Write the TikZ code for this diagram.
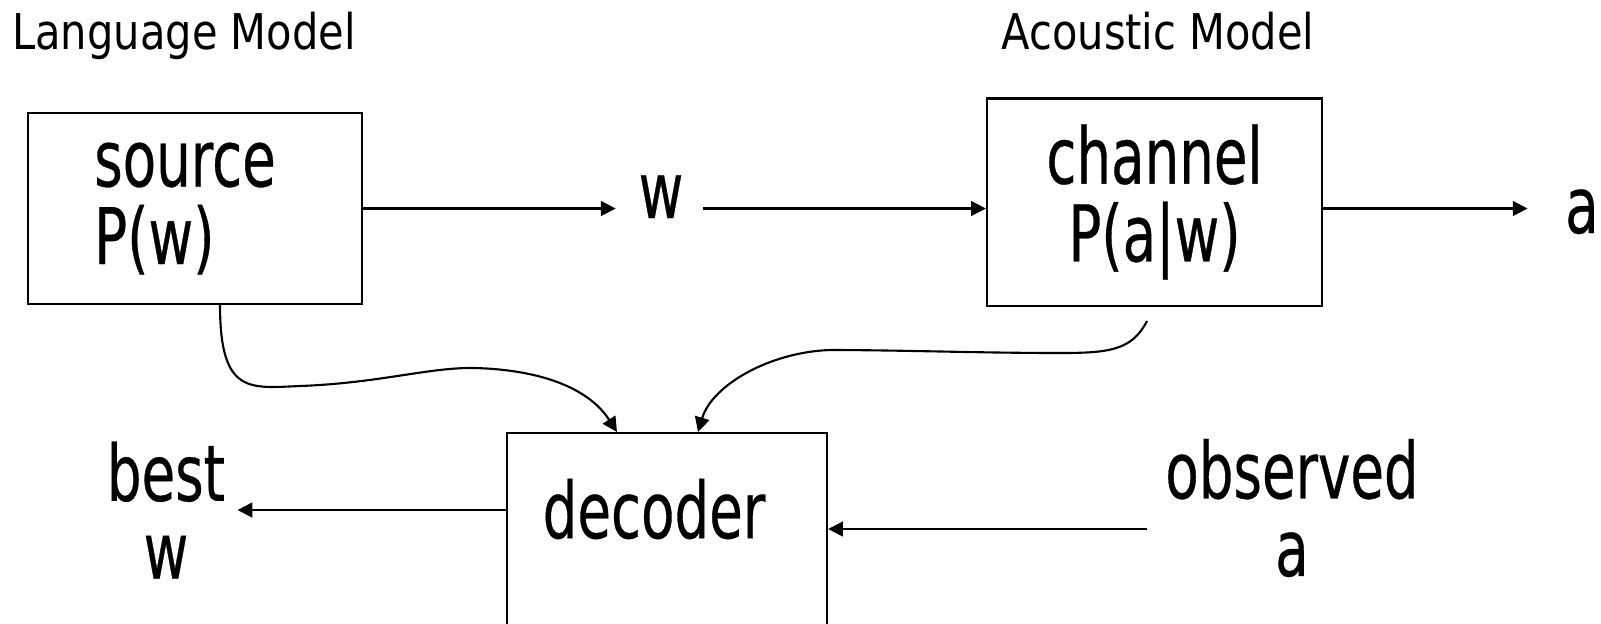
\documentclass[tikz,border=0pt]{standalone}
\usepackage{fontspec}
\setmainfont{DejaVu Sans}[FakeStretch=0.7,FakeBold=0.4]
\newfontfamily\titlefont{DejaVu Sans}[FakeStretch=0.845]
\usetikzlibrary{arrows.meta,positioning}

\begin{document}
\begin{tikzpicture}[x=0.01cm,y=-0.01cm,
    box/.style={draw,line width=0.6pt,inner sep=0pt},
    txt/.style={font=\fontsize{22.2pt}{22.1pt}\selectfont,align=center},
    title/.style={font=\titlefont\fontsize{14pt}{16pt}\selectfont,anchor=base},
    arr/.style={line width=0.6pt,-{Triangle[length=4.2pt,width=4.2pt]}}]
            \clip (0,0) rectangle (1601,623);

            \node[title] (lm) at (184,49) {Language Model};
            \node[title] (am) at (1158,49) {Acoustic Model};

            \node[box,txt,align=left,minimum width=3.34cm,minimum height=1.91cm] (source) at (195,208.5) {source\hspace{0.2cm}\mbox{}\\P(w)};
            \node[box,txt,minimum width=3.35cm,minimum height=2.07cm] (channel) at (1154.5,202) {channel\\P(a|w)};
            \node[txt,anchor=base] (w) at (661,218) {w};
            \node[txt,anchor=base] (a) at (1582,233) {a};

            \node[box,txt,anchor=north,minimum width=3.2cm,text height=1.05cm,text depth=1.6cm] (decoder) at (667,432) {decoder\hspace{0.26cm}};
            \node[txt] (best) at (166,510) {best\\w};
            \node[txt] (observed) at (1292,508) {observed\\a};

            \coordinate (chanTail) at (1147,321);
            \coordinate (obsTail) at (1147,529);

            \draw[arr,shorten >=3pt] (source.east) -- (source.east -| w.west);
            \draw[arr,shorten <=2pt] (w.east |- source.east) -- (channel.west |- source.east);
            \draw[arr,shorten >=7.2pt] (channel.east |- source.east) -- (a.west |- source.east);
            \draw[arr] (decoder.west |- best.east) -- (best.east);
            \draw[arr] (obsTail) -- (obsTail -| decoder.east);

            % the two models feed the decoder
            \draw[arr] ([xshift=0.25cm]source.south) .. controls (220,395) and (250,388) .. (300,386)
                .. controls (380,383) and (430,367) .. (475,368)
                .. controls (545,370) and (590,390) .. ([xshift=-0.5cm]decoder.north);
            \draw[arr] (chanTail) .. controls (1132,350) and (1110,353) .. (1060,353)
                .. controls (980,353) and (900,350) .. (830,350)
                .. controls (770,352) and (712,385) .. ([xshift=0.31cm]decoder.north);
        \end{tikzpicture}
\end{document}
